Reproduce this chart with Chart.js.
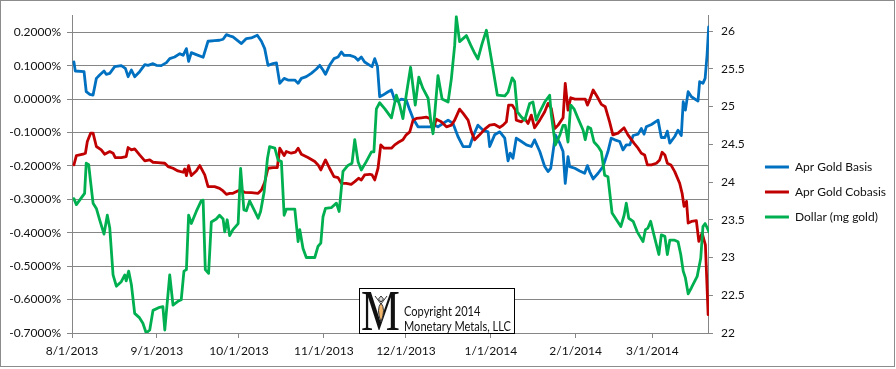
<!DOCTYPE html>
<html>
<head>
<meta charset="utf-8">
<script src="https://cdn.jsdelivr.net/npm/chart.js@4.4.1/dist/chart.umd.min.js"></script>
<style>
  html, body { margin: 0; padding: 0; background: #fff; }
  canvas { display: block; }
</style>
</head>
<body>
<canvas id="goldChart" width="896" height="369"></canvas>
<script>
// x values are days since 8/1/2013
const monthTickDays = [0, 31, 61, 92, 122, 153, 184, 212];
const monthLabels = ['8/1/2013', '9/1/2013', '10/1/2013', '11/1/2013', '12/1/2013', '1/1/2014', '2/1/2014', '3/1/2014'];

const leftTicks = [-0.7, -0.6, -0.5, -0.4, -0.3, -0.2, -0.1, 0, 0.1, 0.2];
const rightTicks = [22, 22.5, 23, 23.5, 24, 24.5, 25, 25.5, 26];

const seriesNames = ['Apr Gold Basis', 'Apr Gold Cobasis', 'Dollar (mg gold)'];

// Apr Gold Basis (%)
const basisDays = [0.7, 1.2, 4.4, 5.2, 6.5, 7.7, 8.9, 10.1, 11.7, 12.5, 13.8, 15.6, 18.0, 19.5, 20.5, 21.7, 22.9, 24.7, 26.6, 27.8,
  29.6, 30.8, 32.6, 34.5, 35.7, 37.5, 39.4, 40.6, 41.8, 42.6, 43.6, 45.4, 47.9, 49.7, 52.1, 53.9, 55.2, 56.4, 57.6, 58.8,
  61.9, 63.7, 65.5, 67.7, 69.2, 70.4, 71.6, 73.4, 74.7, 75.9, 77.5, 78.9, 81.4, 82.6, 83.8, 85.6, 87.4, 89.3, 90.5, 91.7,
  92.6, 94.1, 95.7, 97.2, 98.4, 99.4, 101.5, 103.3, 104.5, 105.7, 106.9, 108.8, 109.6, 110.6, 111.6, 112.4, 113.6, 115.5, 116.7, 117.9,
  119.1, 120.3, 122.1, 123.4, 124.6, 126.4, 128.9, 130.7, 132.5, 133.7, 135.5, 137.4, 139.2, 141.0, 142.9, 145.3, 146.5, 148.3, 150.2, 152.0,
  152.6, 154.4, 156.3, 158.1, 159.3, 160.1, 161.1, 162.3, 164.2, 166.0, 167.8, 169.0, 170.9, 172.7, 173.9, 174.9, 176.1, 176.6, 178.2, 179.4,
  180.2, 181.2, 181.8, 183.7, 185.5, 187.3, 188.3, 189.1, 190.4, 192.2, 194.0, 195.8, 197.0, 198.3, 200.1, 201.3, 202.5, 203.8, 205.0, 206.8,
  208.0, 209.0, 209.8, 211.7, 214.1, 215.3, 216.6, 217.5, 218.4, 220.2, 221.4, 222.6, 223.3, 224.1, 225.1, 226.3, 228.7, 229.3, 230.5, 231.3,
  232.0, 232.6];
const basisValues = [0.111, 0.084, 0.082, 0.022, 0.014, 0.012, 0.062, 0.072, 0.084, 0.074, 0.077, 0.097, 0.100, 0.092, 0.067, 0.087, 0.067, 0.082, 0.103, 0.101,
  0.106, 0.101, 0.100, 0.109, 0.121, 0.126, 0.136, 0.131, 0.151, 0.113, 0.139, 0.133, 0.125, 0.173, 0.175, 0.176, 0.179, 0.193, 0.189, 0.186,
  0.166, 0.181, 0.183, 0.191, 0.173, 0.151, 0.101, 0.106, 0.108, 0.047, 0.062, 0.057, 0.057, 0.047, 0.062, 0.067, 0.077, 0.090, 0.101, 0.087,
  0.074, 0.101, 0.121, 0.126, 0.141, 0.131, 0.131, 0.126, 0.116, 0.126, 0.111, 0.101, 0.097, 0.121, 0.097, 0.007, 0.012, 0.022, 0.027, -0.003,
  -0.006, 0.000, -0.003, -0.033, -0.058, -0.083, -0.083, -0.083, -0.078, -0.083, -0.073, -0.063, -0.073, -0.112, -0.142, -0.142, -0.112, -0.078, -0.093, -0.098,
  -0.142, -0.107, -0.098, -0.117, -0.185, -0.162, -0.177, -0.117, -0.127, -0.137, -0.142, -0.122, -0.157, -0.202, -0.217, -0.207, -0.137, -0.107, -0.132, -0.157,
  -0.252, -0.172, -0.202, -0.207, -0.215, -0.222, -0.199, -0.217, -0.239, -0.222, -0.202, -0.157, -0.117, -0.122, -0.127, -0.152, -0.137, -0.137, -0.109, -0.105,
  -0.088, -0.105, -0.083, -0.076, -0.063, -0.115, -0.115, -0.096, -0.132, -0.112, -0.093, -0.109, -0.008, -0.033, 0.022, 0.007, -0.006, 0.052, 0.047, 0.062,
  0.131, 0.216];

// Apr Gold Cobasis (%)
const cobasisDays = [0.7, 1.6, 4.0, 4.9, 5.6, 6.8, 7.7, 8.9, 10.7, 11.9, 13.8, 15.0, 15.8, 18.0, 19.8, 20.5, 21.7, 22.9, 24.7, 26.6,
  28.4, 29.6, 31.4, 33.9, 35.1, 36.9, 38.7, 40.6, 41.2, 41.8, 42.6, 43.6, 45.4, 46.7, 48.5, 49.7, 52.1, 53.9, 55.2, 56.4,
  57.6, 58.8, 61.3, 63.1, 65.5, 68.0, 69.2, 70.4, 71.6, 73.4, 75.0, 75.9, 77.5, 78.3, 80.1, 81.6, 82.6, 83.8, 86.2, 88.7,
  89.9, 90.9, 92.6, 94.1, 95.7, 97.2, 98.4, 100.2, 102.0, 103.3, 104.7, 105.7, 106.9, 108.8, 109.6, 110.6, 111.8, 112.8, 114.0, 116.7,
  117.9, 119.1, 120.9, 122.1, 123.4, 124.6, 125.8, 127.6, 129.4, 130.7, 131.9, 133.1, 134.9, 136.8, 138.6, 139.8, 141.6, 142.9, 144.7, 145.9,
  147.1, 148.9, 150.8, 152.6, 154.4, 156.3, 157.5, 158.7, 159.5, 160.8, 162.0, 162.3, 164.2, 165.4, 166.6, 167.8, 169.0, 170.9, 172.7, 173.9,
  175.1, 176.4, 177.6, 179.4, 180.2, 181.2, 182.2, 183.7, 186.1, 187.5, 188.3, 189.1, 190.4, 191.9, 193.4, 194.8, 196.4, 197.6, 199.5, 201.7,
  203.1, 205.3, 206.8, 208.0, 209.2, 210.2, 211.7, 213.5, 214.7, 215.6, 216.6, 217.5, 218.8, 220.2, 222.0, 222.9, 223.6, 224.5, 225.1, 226.3,
  228.1, 229.0, 230.2, 231.4, 232.4];
const cobasisValues = [-0.197, -0.169, -0.165, -0.162, -0.127, -0.102, -0.102, -0.142, -0.152, -0.165, -0.157, -0.162, -0.175, -0.175, -0.172, -0.145, -0.152, -0.149, -0.167, -0.185,
  -0.182, -0.189, -0.190, -0.192, -0.202, -0.207, -0.215, -0.219, -0.209, -0.229, -0.199, -0.229, -0.215, -0.199, -0.227, -0.262, -0.262, -0.267, -0.275, -0.285,
  -0.282, -0.282, -0.272, -0.279, -0.280, -0.282, -0.272, -0.249, -0.207, -0.205, -0.205, -0.147, -0.169, -0.157, -0.162, -0.159, -0.147, -0.165, -0.175, -0.187,
  -0.197, -0.212, -0.182, -0.207, -0.232, -0.235, -0.252, -0.252, -0.255, -0.247, -0.237, -0.242, -0.227, -0.225, -0.227, -0.242, -0.207, -0.137, -0.147, -0.147,
  -0.137, -0.130, -0.122, -0.107, -0.098, -0.063, -0.058, -0.056, -0.054, -0.058, -0.093, -0.060, -0.068, -0.083, -0.078, -0.063, -0.030, -0.043, -0.063, -0.098,
  -0.122, -0.107, -0.090, -0.078, -0.076, -0.085, -0.078, -0.068, -0.018, -0.018, -0.033, -0.063, -0.068, -0.058, -0.073, -0.048, -0.086, -0.063, -0.038, -0.013,
  -0.028, -0.088, -0.078, -0.056, 0.047, -0.033, 0.004, 0.000, 0.000, 0.000, -0.018, -0.003, 0.027, 0.007, -0.016, -0.023, -0.068, -0.107, -0.102, -0.086,
  -0.107, -0.132, -0.147, -0.162, -0.167, -0.197, -0.197, -0.192, -0.182, -0.159, -0.167, -0.192, -0.197, -0.217, -0.252, -0.282, -0.321, -0.306, -0.371, -0.366,
  -0.364, -0.426, -0.401, -0.436, -0.645];

// Dollar (mg gold), right axis
const dollarDays = [0.7, 1.6, 4.6, 5.2, 6.1, 6.8, 7.7, 8.9, 10.1, 11.7, 12.9, 13.8, 15.0, 16.2, 18.0, 19.3, 19.8, 20.7, 21.7, 22.9,
  24.7, 25.9, 27.1, 28.4, 29.6, 32.0, 33.2, 33.9, 35.7, 36.9, 38.7, 39.9, 40.9, 41.8, 42.6, 43.6, 45.4, 47.2, 47.9, 48.7,
  49.9, 50.9, 52.7, 53.9, 55.2, 55.8, 56.7, 57.6, 58.8, 60.7, 61.6, 62.8, 63.7, 64.9, 66.8, 68.0, 68.9, 70.2, 71.4, 72.2,
  74.1, 75.3, 76.5, 77.5, 78.3, 81.4, 82.6, 83.2, 84.4, 85.6, 88.7, 89.9, 90.9, 91.7, 92.6, 94.7, 96.6, 97.6, 99.0, 100.8,
  102.3, 103.3, 104.5, 105.7, 107.5, 109.4, 110.3, 111.2, 112.4, 114.3, 116.7, 118.5, 119.7, 120.9, 122.1, 123.7, 125.4, 126.7, 128.2, 130.1,
  131.1, 131.9, 133.7, 135.2, 137.4, 138.6, 139.8, 140.4, 141.6, 144.1, 145.7, 146.9, 148.3, 149.8, 151.4, 153.2, 155.4, 158.1, 159.3, 160.8,
  161.7, 162.7, 164.2, 165.4, 167.2, 168.4, 169.6, 170.9, 172.7, 174.5, 175.1, 176.6, 178.2, 179.4, 180.2, 181.2, 182.2, 183.4, 184.9, 186.7,
  187.5, 188.5, 189.5, 190.7, 192.2, 193.4, 194.6, 195.8, 197.3, 198.9, 200.5, 201.7, 202.5, 203.4, 205.0, 206.5, 208.6, 209.5, 210.4, 211.4,
  212.6, 214.4, 215.3, 216.6, 217.5, 218.4, 220.2, 221.4, 222.4, 223.3, 224.1, 225.1, 226.3, 228.4, 229.7, 230.5, 231.3, 232.1, 232.7];
const dollarValues = [23.78, 23.70, 23.85, 24.25, 24.23, 24.00, 23.72, 23.65, 23.50, 23.31, 23.56, 23.39, 22.77, 22.62, 22.68, 22.77, 22.69, 22.82, 22.64, 22.26,
  22.20, 22.13, 22.00, 22.04, 22.30, 22.34, 22.35, 22.04, 22.77, 22.37, 22.42, 22.44, 22.82, 22.84, 23.56, 23.45, 23.61, 23.75, 23.76, 22.84,
  22.79, 23.47, 23.51, 23.56, 23.51, 23.34, 23.50, 23.29, 23.37, 23.45, 24.18, 23.63, 23.62, 23.75, 23.61, 23.52, 23.61, 23.87, 24.31, 24.47,
  24.45, 24.29, 24.27, 23.56, 23.64, 23.64, 23.21, 23.37, 23.12, 23.00, 23.00, 23.15, 23.19, 23.54, 23.65, 23.66, 23.72, 23.61, 24.14, 24.22,
  24.25, 24.56, 24.27, 24.16, 24.27, 24.40, 24.40, 24.97, 25.05, 24.97, 24.85, 25.15, 25.02, 24.84, 25.15, 25.52, 25.02, 25.39, 25.24, 25.11,
  24.80, 24.64, 25.41, 25.10, 25.06, 25.37, 25.81, 26.19, 25.86, 25.94, 25.81, 25.72, 25.63, 25.83, 26.01, 25.63, 25.15, 25.14, 25.19, 25.38,
  25.33, 24.93, 24.86, 24.82, 25.04, 25.06, 24.82, 24.93, 25.06, 25.15, 24.89, 24.49, 24.62, 24.75, 24.75, 24.53, 25.02, 24.97, 24.84, 24.69,
  24.56, 24.73, 24.71, 24.53, 24.47, 24.40, 24.09, 24.07, 23.59, 23.50, 23.41, 23.56, 23.72, 23.52, 23.48, 23.34, 23.21, 23.37, 23.39, 23.48,
  23.30, 23.04, 23.30, 23.28, 23.04, 23.23, 23.23, 23.21, 23.04, 22.82, 22.73, 22.52, 22.60, 22.75, 22.99, 23.41, 23.45, 23.39, 23.34];

function toPoints(days, values) {
    return days.map((d, i) => ({ x: d, y: values[i] }));
}

const gridGray = '#868686';
const fontFamily = 'Lato, "Open Sans", sans-serif';

// Rahmen und Copyright-Kasten
const decorPlugin = {
    id: 'decor',
    afterDraw(chart) {
        const ctx = chart.ctx;
        ctx.save();
        // outer frame
        ctx.strokeStyle = '#8c8c8c';
        ctx.lineWidth = 1;
        ctx.strokeRect(0.5, 0.5, 894, 366);

        // logo box
        ctx.fillStyle = '#fff';
        ctx.fillRect(359, 288, 155, 45);
        ctx.strokeStyle = '#000';
        ctx.strokeRect(359.5, 288.5, 155, 45);

        // big serif M
        ctx.save();
        ctx.translate(361, 330);
        ctx.scale(0.78, 1);
        ctx.fillStyle = '#111';
        ctx.font = '56px "Liberation Serif", "DejaVu Serif", serif';
        ctx.textBaseline = 'alphabetic';
        ctx.fillText('M', 0, 0);
        ctx.restore();

        // little figure in the M
        ctx.strokeStyle = '#333';
        ctx.lineWidth = 1;
        ctx.beginPath();
        ctx.moveTo(375, 296); ctx.lineTo(381, 304); ctx.lineTo(387, 296);
        ctx.stroke();
        ctx.fillStyle = '#f2b66d';
        ctx.beginPath();
        ctx.moveTo(381, 303);
        ctx.quadraticCurveTo(386, 309, 381, 322);
        ctx.quadraticCurveTo(376, 309, 381, 303);
        ctx.fill();
        ctx.stroke();
        ctx.fillStyle = '#ddd';
        ctx.beginPath();
        ctx.moveTo(381, 296); ctx.lineTo(383.5, 299); ctx.lineTo(381, 302); ctx.lineTo(378.5, 299);
        ctx.closePath();
        ctx.fill();
        ctx.stroke();

        // text squeezed to the box width
        ctx.fillStyle = '#111';
        ctx.font = '13px ' + fontFamily;
        ctx.textBaseline = 'alphabetic';
        const lines = [['Copyright 2014', 316], ['Monetary Metals, LLC', 331]];
        const squeeze = Math.min(1, 107 / ctx.measureText(lines[1][0]).width);
        lines.forEach(([txt, y]) => {
            ctx.save();
            ctx.translate(404, y);
            ctx.scale(squeeze, 1);
            ctx.fillText(txt, 0, 0);
            ctx.restore();
        });
        ctx.restore();
    }
};

const ctx = document.getElementById('goldChart').getContext('2d');
const goldChart = new Chart(ctx, {
    type: 'line',
    data: {
        datasets: [
            {
                label: seriesNames[0],
                data: toPoints(basisDays, basisValues),
                borderColor: '#0070C0',
                backgroundColor: '#0070C0',
                yAxisID: 'y',
                order: 2
            },
            {
                label: seriesNames[1],
                data: toPoints(cobasisDays, cobasisValues),
                borderColor: '#C00000',
                backgroundColor: '#C00000',
                yAxisID: 'y',
                order: 1
            },
            {
                label: seriesNames[2],
                data: toPoints(dollarDays, dollarValues),
                borderColor: '#00B050',
                backgroundColor: '#00B050',
                yAxisID: 'y2',
                order: 0
            }
        ]
    },
    options: {
        responsive: false,
        animation: false,
        layout: { padding: { top: 15, right: 0, bottom: 0, left: 0 } },
        elements: {
            point: { radius: 0 },
            line: { borderWidth: 2.8, tension: 0, borderJoinStyle: 'round', borderCapStyle: 'round' }
        },
        plugins: {
            tooltip: { enabled: false },
            legend: {
                position: 'right',
                align: 'center',
                labels: {
                    font: { family: fontFamily, size: 12 },
                    color: '#111',
                    boxWidth: 24,
                    boxHeight: 3,
                    padding: 13,
                    sort: (a, b) => a.datasetIndex - b.datasetIndex,
                    generateLabels(chart) {
                        const items = Chart.defaults.plugins.legend.labels.generateLabels(chart);
                        items.forEach(it => { it.lineWidth = 0; it.fillStyle = it.strokeStyle; });
                        return items;
                    }
                }
            }
        },
        scales: {
            x: {
                type: 'linear',
                min: 0,
                max: 232.7,
                afterBuildTicks(axis) {
                    axis.ticks = monthTickDays.map(v => ({ value: v }));
                },
                afterFit(axis) { axis.height = 36; },
                ticks: {
                    font: { family: fontFamily, size: 12 },
                    color: '#111',
                    padding: 6,
                    maxRotation: 0,
                    autoSkip: false,
                    callback: (v) => monthLabels[monthTickDays.indexOf(v)]
                },
                grid: { drawOnChartArea: false, drawTicks: true, tickLength: 5, color: gridGray },
                border: { color: gridGray }
            },
            y: {
                position: 'left',
                min: -0.7,
                max: 0.251,
                afterBuildTicks(axis) {
                    axis.ticks = leftTicks.map(v => ({ value: v }));
                },
                afterFit(axis) { axis.width = 72; },
                ticks: {
                    font: { family: fontFamily, size: 12 },
                    color: '#111',
                    padding: 6,
                    callback: (v) => v.toFixed(4) + '%'
                },
                grid: { color: gridGray, tickLength: 5 },
                border: { color: gridGray }
            },
            y2: {
                position: 'right',
                min: 22,
                max: 26.21,
                afterBuildTicks(axis) {
                    axis.ticks = rightTicks.map(v => ({ value: v }));
                },
                afterFit(axis) { axis.width = 43; },
                ticks: {
                    font: { family: fontFamily, size: 12 },
                    color: '#111',
                    padding: 8,
                    callback: (v) => String(v)
                },
                grid: { drawOnChartArea: false, tickLength: 4, color: gridGray },
                border: { color: gridGray }
            }
        }
    },
    plugins: [decorPlugin]
});
</script>
</body>
</html>
